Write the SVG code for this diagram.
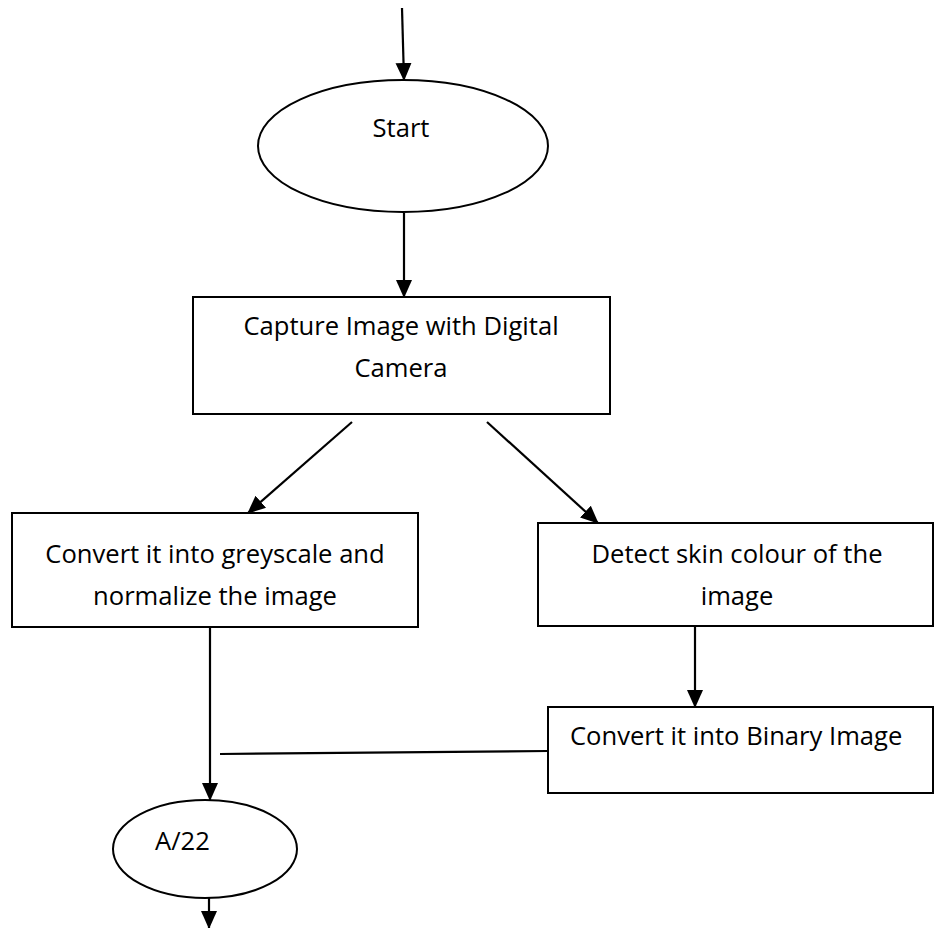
<svg xmlns="http://www.w3.org/2000/svg" width="936" height="928" viewBox="0 0 936 928">
<style>
.s{fill:#fff;stroke:#000;stroke-width:2}
.c{fill:none;stroke:#000;stroke-width:2.2}
text{font-family:"Open Sans","Noto Sans","Liberation Sans",sans-serif;font-size:25.6px;fill:#000}
</style>
<defs>
<marker id="ah" markerWidth="18" markerHeight="18" viewBox="0 0 18 18" refX="17" refY="9" orient="auto" markerUnits="userSpaceOnUse">
<path d="M0,1 L18,9 L0,17 Z" fill="#000"/>
</marker>
</defs>
<rect width="936" height="928" fill="#fff"/>
<g id="connectors">
<line class="c" x1="402" y1="8" x2="404" y2="80" marker-end="url(#ah)"/>
<line class="c" x1="404" y1="213" x2="404" y2="297" marker-end="url(#ah)"/>
<line class="c" x1="352" y1="422" x2="248" y2="513" marker-end="url(#ah)"/>
<line class="c" x1="487" y1="422" x2="598" y2="523" marker-end="url(#ah)"/>
<line class="c" x1="695" y1="627" x2="695" y2="707" marker-end="url(#ah)"/>
<line class="c" x1="210" y1="627" x2="210" y2="800" marker-end="url(#ah)"/>
<line class="c" x1="220" y1="754" x2="548" y2="751"/>
<line class="c" x1="209" y1="898" x2="209" y2="928" marker-end="url(#ah)"/>
</g>
<g id="start">
<ellipse class="s" cx="403" cy="146" rx="145" ry="66"/>
<text x="401" y="137" text-anchor="middle">Start</text>
</g>
<g id="capture">
<rect class="s" x="193" y="297" width="417" height="117"/>
<text x="401" y="335" text-anchor="middle">Capture Image with Digital</text>
<text x="401" y="377" text-anchor="middle">Camera</text>
</g>
<g id="greyscale">
<rect class="s" x="12" y="513" width="406" height="114"/>
<text x="215" y="563" text-anchor="middle">Convert it into greyscale and</text>
<text x="215" y="605" text-anchor="middle">normalize the image</text>
</g>
<g id="skin">
<rect class="s" x="538" y="523" width="395" height="103"/>
<text x="737" y="563" text-anchor="middle">Detect skin colour of the</text>
<text x="737" y="605" text-anchor="middle">image</text>
</g>
<g id="binary">
<rect class="s" x="548" y="707" width="385" height="86"/>
<text x="570" y="745">Convert it into Binary Image</text>
</g>
<g id="a22">
<ellipse class="s" cx="205" cy="849" rx="92" ry="49"/>
<text x="155" y="850">A/22</text>
</g>
</svg>
